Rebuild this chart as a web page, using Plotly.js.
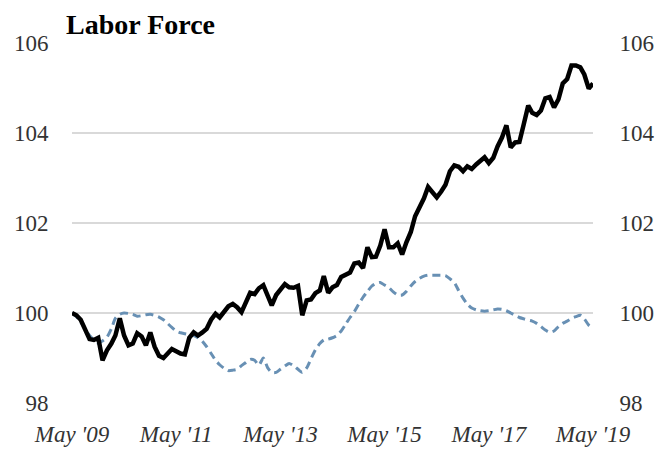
<!DOCTYPE html>
<html>
<head>
<meta charset="utf-8">
<script src="https://cdn.plot.ly/plotly-3.0.1.min.js"></script>
<style>html,body{margin:0;padding:0;background:#fff;}#chart{width:656px;height:449px;}</style>
</head>
<body>
<div id="chart"></div>
<script>
// Monthly, May 2009 .. May 2019 (index 100 = May 2009)
const startYear = 2009, startMonth = 5, nMonths = 121;
const laborForce = [
100.0, 99.95, 99.85, 99.65, 99.42, 99.4, 99.45, 98.95, 99.17, 99.32,
99.5, 99.88, 99.5, 99.28, 99.32, 99.55, 99.48, 99.28, 99.57, 99.25,
99.05, 99.0, 99.1, 99.2, 99.15, 99.1, 99.08, 99.45, 99.57, 99.5,
99.57, 99.65, 99.85, 99.98, 99.9, 100.02, 100.15, 100.2, 100.13, 100.02,
100.25, 100.45, 100.42, 100.55, 100.62, 100.35, 100.17, 100.4, 100.52, 100.64,
100.57, 100.56, 100.6, 99.95, 100.28, 100.3, 100.44, 100.5, 100.82, 100.45,
100.57, 100.62, 100.8, 100.86, 100.9, 101.1, 101.12, 101.0, 101.46, 101.24,
101.25, 101.5, 101.86, 101.46, 101.46, 101.55, 101.3, 101.57, 101.8, 102.15,
102.35, 102.55, 102.8, 102.68, 102.57, 102.7, 102.85, 103.15, 103.28, 103.25,
103.15, 103.26, 103.2, 103.3, 103.38, 103.46, 103.33, 103.45, 103.7, 103.9,
104.17, 103.68, 103.79, 103.8, 104.2, 104.61, 104.45, 104.4, 104.5, 104.77,
104.8, 104.57, 104.75, 105.1, 105.2, 105.5, 105.5, 105.46, 105.3, 104.99,
105.1
];
const comparison = [
100.0, 99.92, 99.8, 99.65, 99.5, 99.4, 99.33, 99.38, 99.46, 99.65,
99.88, 99.97, 100.0, 99.99, 99.97, 99.93, 99.94, 99.96, 99.97, 99.95,
99.91, 99.85, 99.77, 99.68, 99.6, 99.56, 99.54, 99.52, 99.5, 99.45,
99.37, 99.25, 99.1, 98.95, 98.85, 98.77, 98.72, 98.73, 98.75, 98.83,
98.9, 98.97, 98.95, 98.84, 99.0, 98.78, 98.68, 98.68, 98.75, 98.82,
98.88, 98.83, 98.75, 98.68, 98.78, 98.98, 99.18, 99.32, 99.4, 99.42,
99.45, 99.5, 99.6, 99.75, 99.9, 100.03, 100.2, 100.35, 100.48, 100.6,
100.66, 100.68, 100.62, 100.56, 100.47, 100.4, 100.4, 100.48, 100.6, 100.7,
100.77, 100.82, 100.84, 100.84, 100.84, 100.84, 100.83, 100.76, 100.68, 100.5,
100.33, 100.2, 100.11, 100.07, 100.05, 100.04, 100.05, 100.07, 100.09, 100.08,
100.05, 100.0, 99.95, 99.9, 99.87, 99.84, 99.82, 99.77, 99.7, 99.62,
99.57, 99.6, 99.7, 99.77, 99.82, 99.88, 99.92, 99.95, 99.87, 99.73,
99.66
];
const xTickVals = ['2009-05-01','2011-05-01','2013-05-01','2015-05-01','2017-05-01','2019-05-01'];
const xTickText = ["May '09","May '11","May '13","May '15","May '17","May '19"];
const yTickVals = [98, 100, 102, 104, 106];

const dates = [];
for (let i = 0; i < nMonths; i++) {
  const m = startMonth - 1 + i;
  const y = startYear + Math.floor(m / 12);
  const mm = (m % 12) + 1;
  dates.push(y + '-' + String(mm).padStart(2, '0') + '-01');
}

const serif = '"Liberation Serif", "DejaVu Serif", serif';

const traces = [
  {x: dates, y: comparison, type: 'scatter', mode: 'lines', yaxis: 'y',
   line: {color: '#6890b4', width: 3, dash: '8px,5px', shape: 'spline', smoothing: 0.6}, hoverinfo: 'skip'},
  {x: dates, y: laborForce, type: 'scatter', mode: 'lines', yaxis: 'y2',
   line: {color: '#000000', width: 4.5, shape: 'linear'}, hoverinfo: 'skip'}
];

const layout = {
  width: 656, height: 449,
  margin: {l: 72, r: 63, t: 43, b: 46},
  paper_bgcolor: '#ffffff', plot_bgcolor: '#ffffff',
  showlegend: false,
  font: {family: serif, color: '#333333', size: 23},
  title: {text: '<b>Labor Force</b>', font: {family: serif, size: 28, color: '#000000'},
          x: 66 / 656, xanchor: 'left', xref: 'container', y: 0.945, yanchor: 'middle', yref: 'container'},
  xaxis: {type: 'date', range: ['2009-05-01', '2019-05-01'], tickvals: xTickVals, ticktext: xTickText,
          showgrid: false, zeroline: false, showline: false,
          ticks: 'outside', ticklen: 10, tickcolor: 'rgba(0,0,0,0)',
          tickfont: {family: serif, size: 23, color: '#333333', style: 'italic'}},
  yaxis: {range: [98, 106], tickvals: yTickVals, showgrid: true, gridcolor: '#d9d9d9', gridwidth: 1.5,
          zeroline: false, showline: false, ticks: 'outside', ticklen: 18, tickcolor: 'rgba(0,0,0,0)',
          tickfont: {family: serif, size: 23, color: '#333333'}, fixedrange: true},
  yaxis2: {range: [98, 106], tickvals: yTickVals, overlaying: 'y', side: 'right', showgrid: false,
           zeroline: false, showline: false, ticks: 'outside', ticklen: 21, tickcolor: 'rgba(0,0,0,0)',
           tickfont: {family: serif, size: 23, color: '#333333'}, fixedrange: true}
};

Plotly.newPlot('chart', traces, layout, {displayModeBar: false, staticPlot: true});
</script>
</body>
</html>
